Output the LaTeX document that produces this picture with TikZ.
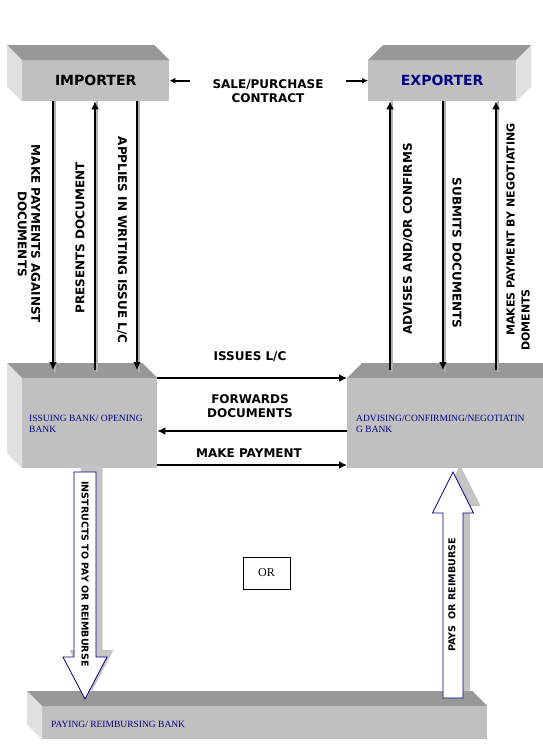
\documentclass[tikz,border=0pt]{standalone}
\usepackage{fontspec}
\setmainfont{Liberation Serif}
\newfontfamily\labfont{DejaVu Sans}
\usetikzlibrary{arrows.meta,calc}
\definecolor{navy}{RGB}{0,0,128}
\definecolor{topgray}{RGB}{152,152,152}
\definecolor{frontgray}{RGB}{192,192,192}
\definecolor{sidegray}{RGB}{224,224,224}
\definecolor{shadowgray}{RGB}{196,196,196}
\begin{document}
\begin{tikzpicture}[x=1pt,y=-1pt,
  front/.style={fill=frontgray, inner sep=0pt, anchor=north west},
  topface/.style={fill=topgray},
  sideface/.style={fill=sidegray},
  lab/.style={font=\labfont\bfseries\fontsize{12}{13.5}\selectfont, align=center, inner sep=0pt},
  title/.style={font=\labfont\bfseries\fontsize{14}{16}\selectfont, inner sep=0pt},
  banktext/.style={font=\fontsize{9.5}{11}\selectfont, text=navy, align=left, inner sep=0pt, anchor=west},
  varrow/.style={line width=2.6pt, -{Latex[length=8pt,width=8pt]}},
  vshadow/.style={line width=2pt, draw=gray!60},
  harrow/.style={line width=2.6pt, -{Latex[length=8pt,width=8pt]}},
  sarrow/.style={line width=1.8pt, -{Latex[length=6pt,width=6pt]}},
  blockarrow/.style={draw=navy, fill=white, line width=0.8pt, line join=miter},
  blockshadow/.style={fill=shadowgray},
  arrowtext/.style={font=\labfont\bfseries\fontsize{9.5}{11}\selectfont, inner sep=0pt}
]
\useasboundingbox (0,0) rectangle (542,755);

% ---------- boxes ----------
% Importer
\node[front, minimum width=147pt, minimum height=41pt] (imp) at (22,60) {};
\fill[topface] (imp.north west) -- ++(-15,-15) -- ($(imp.north east)+(-15,-15)$) -- (imp.north east) -- cycle;
\fill[sideface] (imp.north west) -- ++(-15,-15) -- ($(imp.south west)+(-15,-15)$) -- (imp.south west) -- cycle;
\node[title] at (imp.center) {IMPORTER};

% Exporter
\node[front, minimum width=148pt, minimum height=41pt] (exp) at (368,60) {};
\fill[topface] (exp.north west) -- ++(15,-15) -- ($(exp.north east)+(15,-15)$) -- (exp.north east) -- cycle;
\fill[sideface] (exp.north east) -- ++(15,-15) -- ($(exp.south east)+(15,-15)$) -- (exp.south east) -- cycle;
\node[title, text=navy] at (exp.center) {EXPORTER};

% Issuing bank
\node[front, minimum width=135pt, minimum height=90pt] (iss) at (22,378) {};
\fill[topface] (iss.north west) -- ++(-15,-15) -- ($(iss.north east)+(-15,-15)$) -- (iss.north east) -- cycle;
\fill[sideface] (iss.north west) -- ++(-15,-15) -- ($(iss.south west)+(-15,-15)$) -- (iss.south west) -- cycle;
\node[banktext] at (29,423.5) {ISSUING BANK/ OPENING\\BANK};

% Advising bank
\node[front, minimum width=200pt, minimum height=90pt] (adv) at (347,378) {};
\fill[topface] (adv.north west) -- ++(15,-15) -- ($(adv.north east)+(15,-15)$) -- (adv.north east) -- cycle;
\node[banktext] at (356,423.5) {ADVISING/CONFIRMING/NEGOTIATIN\\G BANK};

% Paying bank
\node[front, minimum width=445pt, minimum height=33pt] (pay) at (42,706) {};
\fill[topface] (pay.north west) -- ++(-15,-15) -- ($(pay.north east)+(-15,-15)$) -- (pay.north east) -- cycle;
\fill[sideface] (pay.north west) -- ++(-15,-15) -- ($(pay.south west)+(-15,-15)$) -- (pay.south west) -- cycle;
\node[banktext] at (51,724) {PAYING/ REIMBURSING BANK};

% ---------- sale / purchase contract ----------
\node[lab, font=\labfont\bfseries\fontsize{12}{14.5}\selectfont] (sp) at (268,91) {SALE/PURCHASE\\CONTRACT};
\draw[sarrow, shorten <=22pt] (sp.west |- imp.east) -- (imp.east);
\draw[sarrow, shorten <=22pt] (sp.east |- exp.west) -- (exp.west);

% ---------- vertical arrows ----------
\coordinate (a1) at (53,0);
\coordinate (a2) at (95,0);
\coordinate (a3) at (137,0);
\coordinate (b1) at (390,0);
\coordinate (b2) at (443,0);
\coordinate (b3) at (496,0);
\foreach \c in {a1,a2,a3}{
  \draw[vshadow] ($(imp.south -| \c)+(1.6,0)$) -- ($(iss.north -| \c)+(1.6,-6)$);
}
\foreach \c in {b1,b2,b3}{
  \draw[vshadow] ($(exp.south -| \c)+(1.6,0)$) -- ($(adv.north -| \c)+(1.6,-6)$);
}
\draw[varrow] (imp.south -| a1) -- ($(iss.north -| a1)+(0,-8)$);
\draw[varrow] ($(iss.north -| a2)+(0,-8)$) -- (imp.south -| a2);
\draw[varrow] (imp.south -| a3) -- ($(iss.north -| a3)+(0,-8)$);
\draw[varrow] ($(adv.north -| b1)+(0,-8)$) -- (exp.south -| b1);
\draw[varrow] (exp.south -| b2) -- ($(adv.north -| b2)+(0,-8)$);
\draw[varrow] ($(adv.north -| b3)+(0,-8)$) -- (exp.south -| b3);

\node[lab, rotate=-90] (l1) at (29,234) {MAKE PAYMENTS AGAINST\\DOCUMENTS};
\node[lab, rotate=90] (l2) at (80,238) {PRESENTS DOCUMENT};
\node[lab, rotate=-90] (l3) at (122,240) {APPLIES IN WRITING ISSUE L/C};
\node[lab, rotate=90] (r1) at (408,239) {ADVISES AND/OR CONFIRMS};
\node[lab, rotate=-90] (r2) at (457,253) {SUBMITS DOCUMENTS};
\node[lab, font=\labfont\bfseries\fontsize{11}{15}\selectfont, rotate=90, anchor=west, align=left] (r3) at (518,351) {\hspace*{15pt}MAKES PAYMENT BY NEGOTIATING\\DOMENTS};

% ---------- horizontal arrows ----------
\coordinate (hy2) at (0,431);
\coordinate (hy3) at (0,465);
\draw[harrow] (iss.north east) -- (adv.north west);
\draw[harrow] (adv.west |- hy2) -- (iss.east |- hy2);
\draw[harrow] (iss.east |- hy3) -- (adv.west |- hy3);
\node[lab] (t1) at (250,357) {ISSUES L/C};
\node[lab] (t2) at (250,406) {FORWARDS\\DOCUMENTS};
\node[lab] (t3) at (249,453) {MAKE PAYMENT};

% ---------- block arrows ----------
\coordinate (dtop) at (85,472);
\coordinate (dtip) at (85,699);
\coordinate (utip) at (453,472);
\coordinate (ubot) at (453,698);
\begin{scope}[transform canvas={xshift=6.5pt, yshift=7pt}]
\fill[blockshadow] ($(dtop)+(-11,0)$) -- ($(dtip)+(-11,-42)$) -- ($(dtip)+(-22,-42)$) -- (dtip) -- ($(dtip)+(22,-42)$) -- ($(dtip)+(11,-42)$) -- ($(dtop)+(11,0)$) -- cycle;
\end{scope}
\draw[blockarrow] ($(dtop)+(-11,0)$) -- ($(dtip)+(-11,-42)$) -- ($(dtip)+(-22,-42)$) -- (dtip) -- ($(dtip)+(22,-42)$) -- ($(dtip)+(11,-42)$) -- ($(dtop)+(11,0)$) -- cycle;
\begin{scope}[transform canvas={xshift=7pt, yshift=7pt}]
\fill[blockshadow] ($(ubot)+(-10,0)$) -- ($(utip)+(-10,41)$) -- ($(utip)+(-20.5,41)$) -- (utip) -- ($(utip)+(20.5,41)$) -- ($(utip)+(10,41)$) -- ($(ubot)+(10,0)$) -- cycle;
\end{scope}
\draw[blockarrow] ($(ubot)+(-10,0)$) -- ($(utip)+(-10,41)$) -- ($(utip)+(-20.5,41)$) -- (utip) -- ($(utip)+(20.5,41)$) -- ($(utip)+(10,41)$) -- ($(ubot)+(10,0)$) -- cycle;
\node[arrowtext, rotate=-90] (ta) at (85,574) {INSTRUCTS TO PAY OR REIMBURSE};
\node[arrowtext, rotate=90] (tb) at (452,595) {PAYS\ \ OR REIMBURSE};

% ---------- OR box ----------
\node[draw=black, line width=0.6pt, minimum width=47pt, minimum height=32pt, inner sep=0pt, font=\fontsize{12}{14}\selectfont] (or) at (266.5,573) {OR};
\end{tikzpicture}
\end{document}
